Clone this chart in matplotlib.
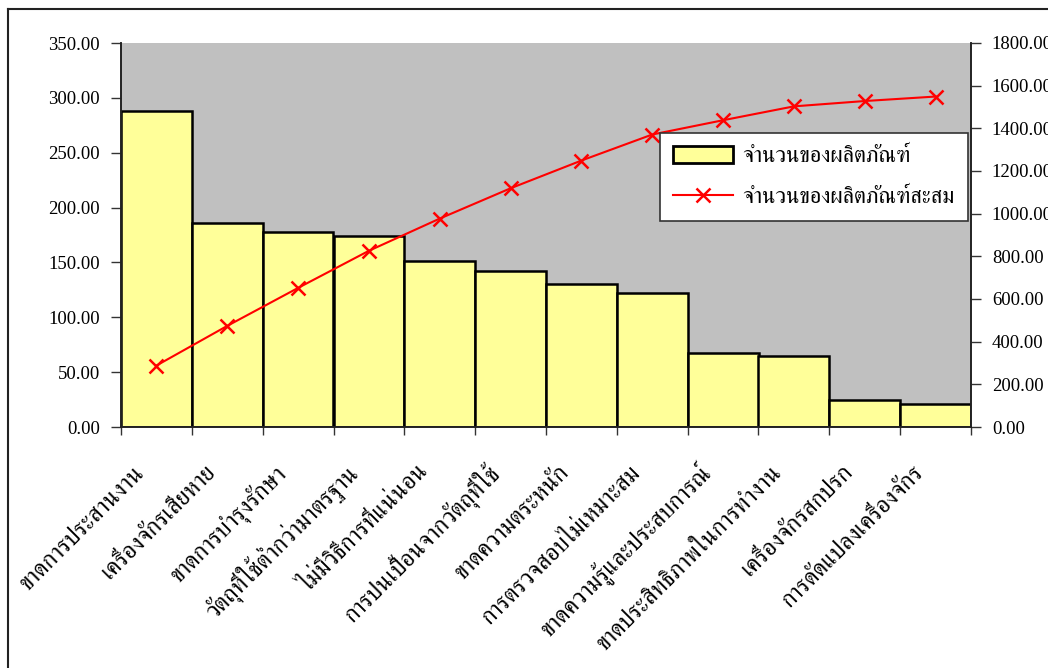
import matplotlib
matplotlib.use("Agg")
import matplotlib.pyplot as plt
import matplotlib.transforms as mtransforms
from matplotlib.lines import Line2D
from matplotlib.patches import Patch
import numpy as np


# ~~~~~~~~~~~~~~~~~~~~~~~~~~~~~~~~~~   RAW  DATA   ~~~~~~~~~~~~~~~~~~~~~~~~~~~~~~~~~~
causes = [
    'ขาดการประสานงาน',
    'เครื่องจักรเสียหาย',
    'ขาดการบำรุงรักษา',
    'วัตถุที่ใช้ต่ำกว่ามาตรฐาน',
    'ไม่มีวิธีการที่แน่นอน',
    'การปนเปื้อนจากวัตถุที่ใช้',
    'ขาดความตระหนัก',
    'การตรวจสอบไม่เหมาะสม',
    'ขาดความรู้และประสบการณ์',
    'ขาดประสิทธิภาพในการทำงาน',
    'เครื่องจักรสกปรก',
    'การดัดแปลงเครื่องจักร',
]

defects = [288, 186, 178, 174, 151, 142, 130, 122, 67, 65, 25, 21]
cumulative = [288, 474, 652, 826, 977, 1119, 1249, 1371, 1438, 1503, 1528, 1549]

left_ticks = [0, 50, 100, 150, 200, 250, 300, 350]
right_ticks = [0, 200, 400, 600, 800, 1000, 1200, 1400, 1600, 1800]

bar_label = 'จำนวนของผลิตภัณฑ์'
line_label = 'จำนวนของผลิตภัณฑ์สะสม'

# ~~~~~~~~~~~~~~~~~~~~~~~~~~~~~~~~~~   STYLE   ~~~~~~~~~~~~~~~~~~~~~~~~~~~~~~~~~~
serif = ['Liberation Serif', 'FreeSerif', 'Noto Serif Thai', 'DejaVu Serif']
thai = ['FreeSerif', 'Taviraj', 'Noto Serif Thai', 'DejaVu Sans']
plt.rcParams['font.family'] = serif

W, H = 1048, 668
fig = plt.figure(figsize=(W / 100, H / 100), dpi=100)
ax = fig.add_axes([121 / W, 1 - 427 / H, 850 / W, 384 / H])
ax2 = ax.twinx()

# ~~~~~~~~~~~~~~~~~~~~~~~~~~~~~~~~~~ MAKE GRAPHS  ~~~~~~~~~~~~~~~~~~~~~~~~~~~~~~~~~~
x = np.arange(len(causes))
ax.set_facecolor('#c0c0c0')
ax.bar(x, defects, width=1.0, color='#ffff99', edgecolor='black', linewidth=1.8, zorder=2)
ax2.plot(x, cumulative, color='#ff0000', linewidth=1.5, marker='x', markersize=10,
         markeredgewidth=1.8, zorder=3)

ax.set_xlim(-0.5, len(causes) - 0.5)
ax.set_ylim(0, 350)
ax2.set_ylim(0, 1800)

ax.set_yticks(left_ticks)
ax.set_yticklabels([f'{v:.2f}' for v in left_ticks])
ax2.set_yticks(right_ticks)
ax2.set_yticklabels([f'{v:.2f}' for v in right_ticks])

ax.set_xticks(np.arange(len(causes) + 1) - 0.5)
ax.set_xticklabels([])
ax.tick_params(axis='x', length=6, width=1, color='#333333')
ax.tick_params(axis='y', length=7, width=1, color='#333333', labelsize=13.5, pad=8)
ax2.tick_params(axis='y', length=7, width=1, color='#333333', labelsize=13.5, pad=8)

for a in (ax, ax2):
    a.spines['top'].set_visible(False)
    for s in ('left', 'right', 'bottom'):
        a.spines[s].set_linewidth(1.2)
        a.spines[s].set_color('#222222')

# rotated category labels, right end just below each bar
offset = mtransforms.ScaledTranslation(-15 / 100, -42 / 100, fig.dpi_scale_trans)
for i, name in enumerate(causes):
    ax.text(i, 0, name, transform=ax.get_xaxis_transform() + offset,
            rotation=45, rotation_mode='anchor', ha='right', va='center',
            fontsize=17, family=thai)

# legend
handles = [
    Patch(facecolor='#ffff99', edgecolor='black', linewidth=2),
    Line2D([], [], color='#ff0000', linewidth=1.5, marker='x', markersize=10, markeredgewidth=1.8),
]
leg = fig.legend(handles, [bar_label, line_label], loc='upper left',
                 bbox_to_anchor=(660 / W, 1 - 133 / H), borderaxespad=0,
                 prop={'family': thai, 'size': 16},
                 frameon=True, fancybox=False, edgecolor='#333333', framealpha=1,
                 handlelength=2.7, handleheight=0.75, handletextpad=0.4,
                 labelspacing=0.9, borderpad=0.6)
leg.get_frame().set_linewidth(1.2)

# page frame
fig.add_artist(Line2D([8 / W, 1], [1 - 9 / H, 1 - 9 / H], color='#222222', linewidth=1.5))
fig.add_artist(Line2D([8 / W, 8 / W], [1 - 9 / H, 0], color='#222222', linewidth=1.5))

fig.savefig('out.png', dpi=100)
